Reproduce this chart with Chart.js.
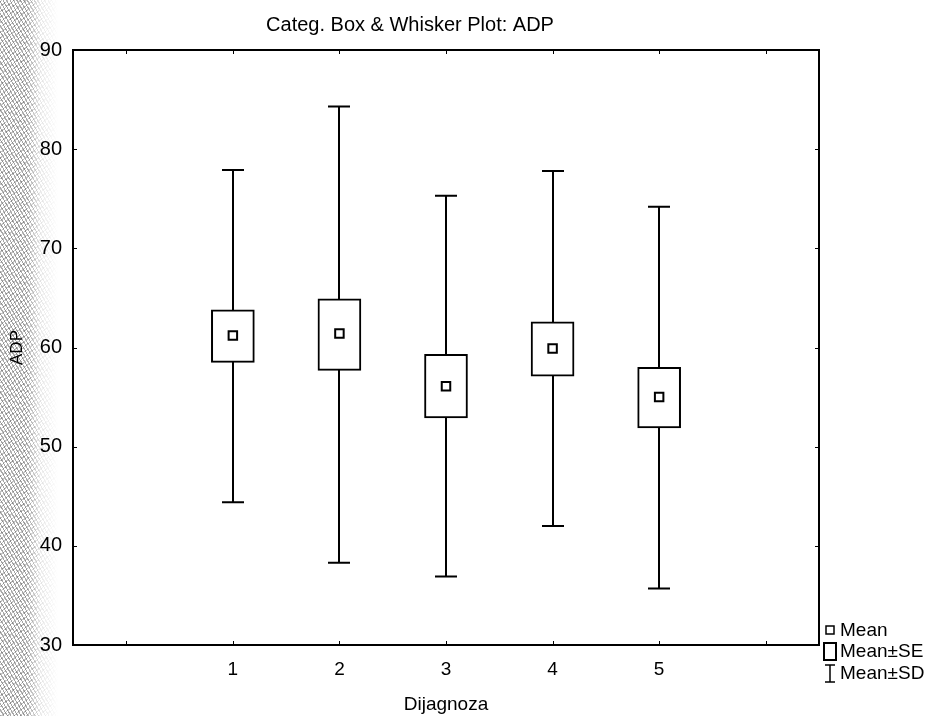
<!DOCTYPE html>
<html>
<head>
<meta charset="utf-8">
<script src="https://cdn.jsdelivr.net/npm/chart.js@4"></script>
<style>
  html, body { margin: 0; padding: 0; background: #fff; }
  #wrap { position: relative; width: 939px; height: 716px; }
  /* scanner noise band at left edge */
  #noise {
    position: absolute; left: 0; top: 0; width: 58px; height: 716px;
    background:
      repeating-linear-gradient(60deg, rgba(80,80,80,0.5) 0 1px, transparent 1px 3px),
      repeating-linear-gradient(-40deg, rgba(110,110,110,0.4) 0 1px, transparent 1px 4px);
    -webkit-mask-image: linear-gradient(to right, #000 45%, rgba(0,0,0,0.25) 70%, transparent);
    mask-image: linear-gradient(to right, #000 45%, rgba(0,0,0,0.25) 70%, transparent);
  }
  canvas { position: absolute; left: 0; top: 0; }
</style>
</head>
<body>
<div id="wrap">
  <div id="noise"></div>
  <canvas id="box-chart" width="939" height="716"></canvas>
</div>
<script>
// Categ. Box & Whisker Plot: ADP
const categories = [1, 2, 3, 4, 5];
const means  = [61.2, 61.4, 56.1, 59.9, 55.0];
const seLow  = [58.5, 57.7, 52.9, 57.1, 51.9];
const seHigh = [63.8, 64.9, 59.3, 62.6, 58.0];
const sdLow  = [44.4, 38.3, 36.9, 42.0, 35.7];
const sdHigh = [77.9, 84.3, 75.3, 77.8, 74.2];
const xTicks = [0, 1, 2, 3, 4, 5, 6];
const yTicks = [30, 40, 50, 60, 70, 80, 90];

const INK = '#000';
const FONT = '"Liberation Sans", Arial, sans-serif';

// whiskers behind boxes, frame + legend on top
const whiskerPlugin = {
    id: 'whiskers',
    beforeDatasetsDraw(chart) {
        const { ctx, scales: { x, y } } = chart;
        ctx.save();
        ctx.strokeStyle = INK;
        ctx.lineWidth = 2;
        categories.forEach((c, i) => {
            const px = Math.round(x.getPixelForValue(c));
            const top = y.getPixelForValue(sdHigh[i]);
            const bot = y.getPixelForValue(sdLow[i]);
            ctx.beginPath();
            ctx.moveTo(px, top); ctx.lineTo(px, bot);
            ctx.moveTo(px - 11, top); ctx.lineTo(px + 11, top);
            ctx.moveTo(px - 11, bot); ctx.lineTo(px + 11, bot);
            ctx.stroke();
        });
        ctx.restore();
    },
    afterDraw(chart) {
        const { ctx, chartArea: a, scales: { x, y } } = chart;
        ctx.save();
        ctx.strokeStyle = INK;
        ctx.lineWidth = 2;
        ctx.strokeRect(a.left, a.top, a.right - a.left, a.bottom - a.top);

        // small inward tick marks
        ctx.lineWidth = 1;
        ctx.beginPath();
        xTicks.forEach(v => {
            const px = Math.round(x.getPixelForValue(v)) + 0.5;
            ctx.moveTo(px, a.top); ctx.lineTo(px, a.top + 4);
            ctx.moveTo(px, a.bottom); ctx.lineTo(px, a.bottom - 4);
        });
        yTicks.forEach(v => {
            const py = Math.round(y.getPixelForValue(v)) + 0.5;
            ctx.moveTo(a.left, py); ctx.lineTo(a.left + 4, py);
            ctx.moveTo(a.right, py); ctx.lineTo(a.right - 4, py);
        });
        ctx.stroke();

        // title
        ctx.fillStyle = INK;
        ctx.font = '20px ' + FONT;
        ctx.textAlign = 'center';
        ctx.textBaseline = 'middle';
        ctx.fillText('Categ. Box & Whisker Plot: ADP', 410, 25);

        // legend
        const lx = a.right + 11;
        ctx.textAlign = 'left';
        ctx.font = '19px ' + FONT;
        ctx.lineWidth = 1.5;
        ctx.strokeRect(lx - 4, 626, 8, 8);
        ctx.fillText('Mean', lx + 10, 631);
        ctx.lineWidth = 2;
        ctx.strokeRect(lx - 6, 643, 12, 17);
        ctx.fillText('Mean±SE', lx + 10, 652);
        ctx.lineWidth = 1.5;
        ctx.beginPath();
        ctx.moveTo(lx - 5, 665); ctx.lineTo(lx + 5, 665);
        ctx.moveTo(lx, 665); ctx.lineTo(lx, 682);
        ctx.moveTo(lx - 5, 682); ctx.lineTo(lx + 5, 682);
        ctx.stroke();
        ctx.fillText('Mean±SD', lx + 10, 674);
        ctx.restore();
    },
};

function initBoxChart() {
    const ctx = document.getElementById('box-chart');
    new Chart(ctx, {
        type: 'bar',
        data: {
            datasets: [
                {
                    type: 'bar',
                    label: 'Mean±SE',
                    data: categories.map((c, i) => ({ x: c, y: [seLow[i], seHigh[i]] })),
                    backgroundColor: '#fff',
                    borderColor: INK,
                    borderWidth: 2,
                    borderSkipped: false,
                    barThickness: 43,
                    order: 2,
                },
                {
                    type: 'scatter',
                    label: 'Mean',
                    data: categories.map((c, i) => ({ x: c, y: means[i] })),
                    pointStyle: 'rect',
                    pointRadius: 6,
                    backgroundColor: '#fff',
                    borderColor: INK,
                    borderWidth: 2,
                    order: 1,
                },
            ],
        },
        options: {
            responsive: false,
            animation: false,
            events: [],
            layout: { padding: { top: 50, right: 120, bottom: 0, left: 0 } },
            plugins: {
                legend: { display: false },
                tooltip: { enabled: false },
                title: { display: false },
            },
            scales: {
                x: {
                    type: 'linear',
                    min: -0.5,
                    max: 6.5,
                    offset: false,
                    grid: { display: false, drawTicks: false },
                    border: { display: false },
                    afterBuildTicks: s => { s.ticks = xTicks.map(v => ({ value: v })); },
                    afterFit: s => { s.height = 71; },
                    ticks: {
                        autoSkip: false,
                        maxRotation: 0,
                        padding: 13,
                        color: INK,
                        font: { family: FONT, size: 19 },
                        callback: v => (v >= 1 && v <= 5 ? String(v) : ''),
                    },
                    title: {
                        display: true,
                        text: 'Dijagnoza',
                        color: INK,
                        font: { family: FONT, size: 19 },
                        padding: { top: 0, bottom: 0 },
                    },
                },
                y: {
                    min: 30,
                    max: 90,
                    grid: { display: false, drawTicks: false },
                    border: { display: false },
                    afterBuildTicks: s => { s.ticks = yTicks.map(v => ({ value: v })); },
                    afterFit: s => { s.width = 73; },
                    ticks: {
                        padding: 11,
                        color: INK,
                        font: { family: FONT, size: 20 },
                    },
                    title: {
                        display: true,
                        text: 'ADP',
                        color: INK,
                        font: { family: FONT, size: 17 },
                        padding: { top: 7, bottom: 0 },
                    },
                },
            },
        },
        plugins: [whiskerPlugin],
    });
}

document.addEventListener('DOMContentLoaded', initBoxChart);
</script>
</body>
</html>
